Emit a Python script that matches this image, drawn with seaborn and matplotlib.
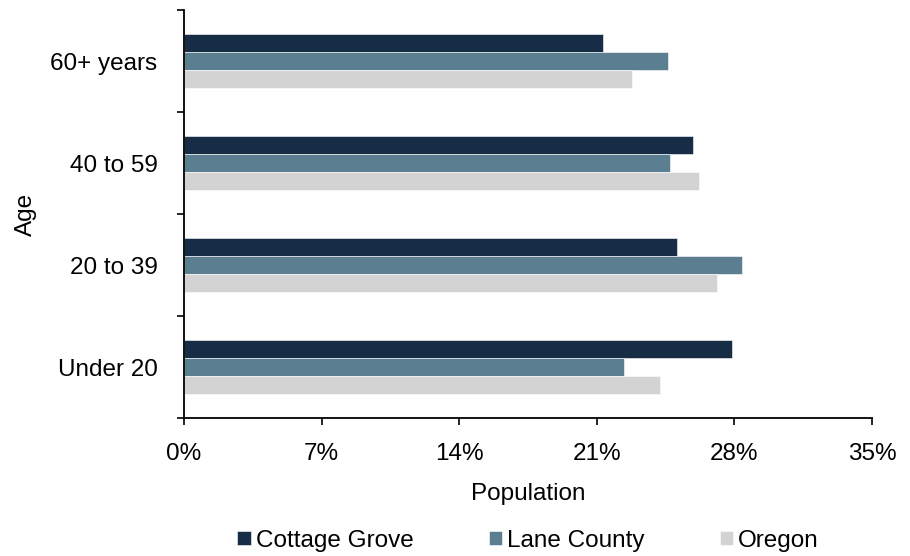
import matplotlib
matplotlib.use("Agg")
import matplotlib.pyplot as plt
import seaborn as sns
import pandas
from matplotlib.ticker import FixedLocator, PercentFormatter

# Share of population by age group
age_groups = ["60+ years", "40 to 59", "20 to 39", "Under 20"]
cottage_grove = [21.3, 25.9, 25.1, 27.9]
lane_county = [24.6, 24.7, 28.4, 22.4]
oregon = [22.8, 26.2, 27.1, 24.2]

places = ["Cottage Grove", "Lane County", "Oregon"]
colors = ["#172D46", "#5B7F90", "#D3D3D3"]
x_ticks = [0, 7, 14, 21, 28, 35]

FS = 17.5


def build_frame():
    """
    Long form table for seaborn
    """
    rows = []
    for place, values in zip(places, [cottage_grove, lane_county, oregon]):
        for age, val in zip(age_groups, values):
            rows.append({"Age": age, "Population": val, "Place": place})
    return pandas.DataFrame(rows)


def main():
    sns.set_style("white")
    plt.rcParams["font.family"] = ["Liberation Sans", "DejaVu Sans"]
    plt.rcParams["text.color"] = "black"
    plt.rcParams["axes.labelcolor"] = "black"
    plt.rcParams["xtick.color"] = "black"
    plt.rcParams["ytick.color"] = "black"

    df = build_frame()
    fig = plt.figure(figsize=(9.1, 5.56), dpi=100)
    ax = fig.add_axes([0.2022, 0.2482, 0.7560, 0.7338])

    sns.barplot(
        data=df,
        x="Population",
        y="Age",
        hue="Place",
        order=age_groups,
        hue_order=places,
        palette=colors,
        saturation=1,
        orient="h",
        width=0.53,
        gap=0,
        edgecolor="white",
        linewidth=0.4,
        ax=ax,
    )

    ax.set_xlim(0, 35)
    ax.set_ylim(3.5, -0.5)
    ax.xaxis.set_major_locator(FixedLocator(x_ticks))
    ax.xaxis.set_major_formatter(PercentFormatter(decimals=0))

    # category boundaries get the tick marks, labels sit in the middle
    ax.yaxis.set_minor_locator(FixedLocator([-0.5, 0.5, 1.5, 2.5, 3.5]))
    ax.tick_params(axis="y", which="major", length=0, pad=19, labelsize=FS)
    ax.tick_params(axis="y", which="minor", length=5, width=1.2, color="black", direction="out", left=True)
    ax.tick_params(axis="x", which="major", length=5, width=1.2, color="black", direction="out", bottom=True, pad=13, labelsize=FS)

    for side in ["top", "right"]:
        ax.spines[side].set_visible(False)
    for side in ["left", "bottom"]:
        ax.spines[side].set_color("black")
        ax.spines[side].set_linewidth(1.3)

    ax.set_xlabel("Population", fontsize=FS, labelpad=13)
    ax.set_ylabel("Age", fontsize=FS, labelpad=10)

    ax.legend(
        loc="upper center",
        bbox_to_anchor=(0.5, -0.22),
        ncol=3,
        frameon=False,
        fontsize=FS,
        handlelength=0.55,
        handleheight=0.55,
        handletextpad=0.2,
        columnspacing=3.1,
    )

    fig.savefig("out.png", dpi=100)
    plt.close(fig)


if __name__ == "__main__":
    main()
